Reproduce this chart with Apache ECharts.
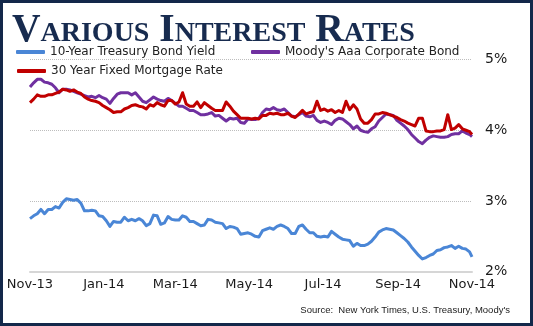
<!DOCTYPE html>
<html><head><meta charset="utf-8">
<script src="https://cdn.jsdelivr.net/npm/echarts@6/dist/echarts.min.js"></script>
<style>html,body{margin:0;padding:0;background:#fff}#c{width:533px;height:326px}</style>
</head><body><div id="c"></div>
<script>
const dates = ['2013-11-01','2013-11-04','2013-11-07','2013-11-10','2013-11-13','2013-11-16','2013-11-19','2013-11-22','2013-11-25','2013-11-28','2013-12-01','2013-12-04','2013-12-07','2013-12-10','2013-12-13','2013-12-16','2013-12-19','2013-12-22','2013-12-25','2013-12-28','2013-12-31','2014-01-03','2014-01-06','2014-01-09','2014-01-12','2014-01-15','2014-01-18','2014-01-21','2014-01-24','2014-01-27','2014-01-30','2014-02-02','2014-02-05','2014-02-08','2014-02-11','2014-02-14','2014-02-17','2014-02-20','2014-02-23','2014-02-26','2014-03-01','2014-03-04','2014-03-07','2014-03-10','2014-03-13','2014-03-16','2014-03-19','2014-03-22','2014-03-25','2014-03-28','2014-03-31','2014-04-03','2014-04-06','2014-04-09','2014-04-12','2014-04-15','2014-04-18','2014-04-21','2014-04-24','2014-04-27','2014-04-30','2014-05-03','2014-05-06','2014-05-09','2014-05-12','2014-05-15','2014-05-18','2014-05-21','2014-05-24','2014-05-27','2014-05-30','2014-06-02','2014-06-05','2014-06-08','2014-06-11','2014-06-14','2014-06-17','2014-06-20','2014-06-23','2014-06-26','2014-06-29','2014-07-02','2014-07-05','2014-07-08','2014-07-11','2014-07-14','2014-07-17','2014-07-20','2014-07-23','2014-07-26','2014-07-29','2014-08-01','2014-08-04','2014-08-07','2014-08-10','2014-08-13','2014-08-16','2014-08-19','2014-08-22','2014-08-25','2014-08-28','2014-08-31','2014-09-03','2014-09-06','2014-09-09','2014-09-12','2014-09-15','2014-09-18','2014-09-21','2014-09-24','2014-09-27','2014-09-30','2014-10-03','2014-10-06','2014-10-09','2014-10-12','2014-10-15','2014-10-18','2014-10-21','2014-10-24','2014-10-27','2014-10-30','2014-11-01'];

const treasury = [
2.75,2.79,2.82,2.88,2.82,2.88,2.88,2.92,2.90,2.98,
3.03,3.02,3.01,3.02,2.97,2.86,2.86,2.87,2.86,2.79,
2.78,2.72,2.64,2.71,2.70,2.70,2.77,2.72,2.74,2.72,
2.75,2.72,2.65,2.68,2.80,2.79,2.67,2.69,2.78,2.74,
2.73,2.73,2.79,2.77,2.71,2.71,2.68,2.65,2.66,2.74,
2.73,2.70,2.69,2.68,2.61,2.64,2.63,2.61,2.53,2.54,
2.55,2.53,2.50,2.49,2.58,2.60,2.62,2.60,2.64,2.66,
2.64,2.61,2.54,2.54,2.64,2.66,2.60,2.55,2.55,2.50,
2.49,2.50,2.49,2.57,2.53,2.49,2.46,2.45,2.44,2.36,
2.40,2.37,2.37,2.39,2.43,2.49,2.56,2.59,2.61,2.60,
2.59,2.55,2.51,2.47,2.42,2.35,2.29,2.23,2.18,2.20,
2.23,2.25,2.30,2.31,2.34,2.35,2.37,2.33,2.36,2.33,
2.32,2.28,2.21];

const moodys = [
4.61,4.67,4.72,4.72,4.68,4.67,4.65,4.60,4.53,4.58,
4.58,4.57,4.55,4.53,4.51,4.49,4.47,4.48,4.46,4.49,
4.46,4.44,4.38,4.45,4.51,4.53,4.53,4.53,4.50,4.53,
4.47,4.41,4.39,4.43,4.47,4.44,4.42,4.41,4.45,4.42,
4.38,4.34,4.34,4.31,4.28,4.28,4.25,4.22,4.22,4.23,
4.25,4.20,4.21,4.17,4.13,4.17,4.16,4.17,4.11,4.10,
4.16,4.15,4.15,4.17,4.25,4.30,4.29,4.32,4.29,4.28,
4.30,4.25,4.20,4.19,4.22,4.25,4.20,4.19,4.21,4.14,
4.11,4.13,4.11,4.08,4.14,4.17,4.16,4.12,4.08,4.02,
4.06,4.00,3.98,3.97,4.02,4.05,4.13,4.18,4.23,4.22,
4.21,4.14,4.10,4.06,4.01,3.94,3.89,3.84,3.81,3.86,
3.90,3.92,3.91,3.90,3.90,3.91,3.94,3.95,3.95,3.99,
3.96,3.94,3.91];

const mortgage = [
4.39,4.44,4.50,4.48,4.48,4.50,4.50,4.52,4.54,4.58,
4.57,4.55,4.57,4.54,4.52,4.47,4.44,4.42,4.41,4.39,
4.35,4.32,4.29,4.25,4.26,4.26,4.30,4.32,4.35,4.36,
4.34,4.33,4.30,4.36,4.34,4.39,4.36,4.34,4.42,4.42,
4.37,4.40,4.53,4.37,4.34,4.34,4.40,4.32,4.39,4.35,
4.31,4.28,4.28,4.28,4.40,4.34,4.27,4.22,4.17,4.17,
4.17,4.16,4.17,4.16,4.21,4.21,4.24,4.23,4.24,4.22,
4.22,4.24,4.20,4.18,4.23,4.28,4.23,4.25,4.26,4.41,
4.28,4.30,4.27,4.29,4.25,4.28,4.25,4.41,4.29,4.36,
4.30,4.16,4.10,4.10,4.15,4.23,4.23,4.25,4.24,4.22,
4.20,4.18,4.15,4.13,4.10,4.08,4.06,4.17,4.17,3.99,
3.98,3.98,3.99,3.99,4.01,4.22,4.01,4.03,4.08,4.02,
4.00,3.98,3.94];

const seriesNames = ['10-Year Treasury Bond Yield', "Moody's Aaa Corporate Bond", '30 Year Fixed Mortgage Rate'];
const tickDates = ['2013-11-01','2014-01-01','2014-03-01','2014-05-01','2014-07-01','2014-09-01','2014-11-01'];
const tickLabels = ['Nov-13','Jan-14','Mar-14','May-14','Jul-14','Sep-14','Nov-14'];
const yMin = 2, yMax = 5, yStep = 1;
const titleText = 'Various Interest Rates';
const sourceText = "Source:  New York Times, U.S. Treasury, Moody's";

const toTime = s => { const p = s.split('-').map(Number); return new Date(p[0], p[1] - 1, p[2]).getTime(); };
const chart = echarts.init(document.getElementById('c'), null, {renderer: 'canvas'});
const tickTimes = tickDates.map(toTime);
const pairs = arr => dates.map((d, i) => [toTime(d), arr[i]]);
const colors = ['#4a86d6', '#7030a0', '#c00000'];
const legendText = {fontFamily: 'DejaVu Sans', fontSize: 12, color: '#222'};
const mkLegend = (name, left, top) => ({
  data: [name], left: left, top: top, padding: 0, icon: 'roundRect',
  itemWidth: 29, itemHeight: 4, itemGap: 0, textStyle: legendText, selectedMode: false
});

chart.setOption({
  animation: false,
  backgroundColor: '#ffffff',
  grid: {left: 30, right: 61, top: 59.5, bottom: 54.3},
  xAxis: {
    type: 'value', min: tickTimes[0], max: tickTimes[tickTimes.length - 1],
    axisLine: {show: true, onZero: false, lineStyle: {color: '#d6d6d6', width: 2}},
    axisTick: {show: false},
    splitLine: {show: false},
    axisLabel: {
      customValues: tickTimes,
      formatter: function (v) { const k = tickTimes.indexOf(+v); return k >= 0 ? tickLabels[k] : ''; },
      color: '#1a1a1a', fontFamily: 'DejaVu Sans', fontSize: 13, margin: 6,
      showMinLabel: true, showMaxLabel: true, hideOverlap: false
    }
  },
  yAxis: {
    type: 'value', position: 'right', min: yMin, max: yMax, interval: yStep,
    axisLine: {show: false}, axisTick: {show: false},
    splitLine: {lineStyle: {color: '#bdbdbd', type: 'dotted', width: 1}},
    axisLabel: {formatter: '{value}%', color: '#1a1a1a', fontFamily: 'DejaVu Sans', fontSize: 14, margin: 13}
  },
  legend: [
    mkLegend(seriesNames[0], 16, 46),
    mkLegend(seriesNames[1], 251, 46),
    mkLegend(seriesNames[2], 17, 65)
  ],
  series: [
    {name: seriesNames[0], type: 'line', data: pairs(treasury), showSymbol: false, color: colors[0], lineStyle: {width: 3, join: 'round'}, z: 2},
    {name: seriesNames[1], type: 'line', data: pairs(moodys), showSymbol: false, color: colors[1], lineStyle: {width: 3, join: 'round'}, z: 3},
    {name: seriesNames[2], type: 'line', data: pairs(mortgage), showSymbol: false, color: colors[2], lineStyle: {width: 3, join: 'round'}, z: 4}
  ],
  graphic: [
    {type: 'rect', shape: {x: 1.5, y: 1.5, width: 530, height: 323}, style: {fill: 'none', stroke: '#13284a', lineWidth: 3}, z: 100},
    {type: 'text', left: 12, top: 11, style: {text: titleText, font: 'small-caps bold 39.5px "Liberation Serif"', fill: '#172b4f'}},
    {type: 'text', right: 23, top: 305, style: {text: sourceText, font: '9.5px "Liberation Sans Narrow", "Liberation Sans"', fill: '#1a1a1a'}}
  ]
});
</script></body></html>
